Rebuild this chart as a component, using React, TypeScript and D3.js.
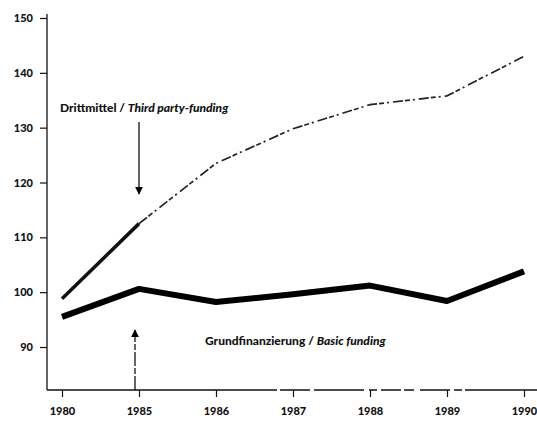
import { useEffect, useRef } from "react";
import * as d3 from "d3";

const years = ["1980", "1985", "1986", "1987", "1988", "1989", "1990"];
const drittmittel = [98.8, 112.5, 123.5, 129.8, 134.2, 135.8, 143];
const grundfinanzierung = [95.5, 100.6, 98.2, 99.6, 101.2, 98.4, 103.8];
const yTicks = [90, 100, 110, 120, 130, 140, 150];

const labelDritt = "Drittmittel / ";
const labelDrittEn = "Third party-funding";
const labelGrund = "Grundfinanzierung / ";
const labelGrundEn = "Basic funding";

export default function App() {
    const ref = useRef<SVGSVGElement>(null);

    useEffect(() => {
        const width = 537;
        const height = 423;
        const axisY = 390;
        const axisX = 47;

        const svg = d3.select(ref.current)
            .attr("width", width)
            .attr("height", height);

        svg.selectAll("*").remove();

        const font = "Lato, 'DejaVu Sans', sans-serif";

        // Scales
        const x = d3.scalePoint<string>()
            .domain(years)
            .range([62, 524]);

        const y = d3.scaleLinear()
            .domain([90, 150])
            .range([347, 18]);

        // Y axis
        const yAxis = svg.append("g")
            .attr("transform", `translate(${axisX},0)`)
            .call(d3.axisLeft(y).tickValues(yTicks).tickSize(7).tickPadding(7).tickFormat(d3.format("d")));
        yAxis.select(".domain").remove();
        yAxis.append("line")
            .attr("x1", 0).attr("x2", 0)
            .attr("y1", 14).attr("y2", axisY)
            .attr("stroke", "#111").attr("stroke-width", 1.3);
        yAxis.selectAll("text")
            .attr("font-family", font)
            .attr("font-weight", "900")
            .attr("font-size", 11)
            .attr("fill", "#111");
        yAxis.selectAll(".tick line").attr("stroke", "#111").attr("stroke-width", 1.2);

        // X axis
        const xAxis = svg.append("g")
            .attr("transform", `translate(0,${axisY})`)
            .call(d3.axisBottom(x).tickSize(7).tickPadding(10));
        xAxis.select(".domain").remove();
        xAxis.append("line")
            .attr("x1", axisX).attr("x2", width)
            .attr("y1", 0).attr("y2", 0)
            .attr("stroke", "#111").attr("stroke-width", 1.3)
            .attr("stroke-dasharray", "230 3 30 4 50 5 8 4 20 3 10 6 30 4 8 3");
        xAxis.selectAll("text")
            .attr("font-family", font)
            .attr("font-weight", "900")
            .attr("font-size", 11)
            .attr("fill", "#111");
        xAxis.selectAll(".tick line").attr("stroke", "#111").attr("stroke-width", 1.2);

        const line = d3.line<number>()
            .x((_, i) => x(years[i]) as number)
            .y(d => y(d));

        // Drittmittel: heavy first stretch, thin broken afterwards
        svg.append("path")
            .datum(drittmittel.slice(0, 2))
            .attr("fill", "none")
            .attr("stroke", "#111")
            .attr("stroke-width", 3.5)
            .attr("d", line);

        const lineRest = d3.line<number>()
            .x((_, i) => x(years[i + 1]) as number)
            .y(d => y(d));
        svg.append("path")
            .datum(drittmittel.slice(1))
            .attr("fill", "none")
            .attr("stroke", "#222")
            .attr("stroke-width", 1.7)
            .attr("stroke-dasharray", "10 2 5 3 2 4")
            .attr("d", lineRest);

        // Grundfinanzierung
        svg.append("path")
            .datum(grundfinanzierung)
            .attr("fill", "none")
            .attr("stroke", "#000")
            .attr("stroke-width", 6)
            .attr("stroke-linejoin", "round")
            .attr("d", line);

        // Arrow marker
        const defs = svg.append("defs");
        defs.append("marker")
            .attr("id", "arrowhead")
            .attr("viewBox", "0 0 10 10")
            .attr("refX", 9).attr("refY", 5)
            .attr("markerWidth", 7).attr("markerHeight", 6)
            .attr("markerUnits", "strokeWidth")
            .attr("orient", "auto")
            .append("path")
            .attr("d", "M0,0 L10,5 L0,10 Z")
            .attr("fill", "#000");

        const arrowX1 = (x("1985") as number);
        svg.append("line")
            .attr("x1", arrowX1).attr("x2", arrowX1)
            .attr("y1", 122).attr("y2", 194)
            .attr("stroke", "#111").attr("stroke-width", 1.3)
            .attr("marker-end", "url(#arrowhead)");

        svg.append("line")
            .attr("x1", arrowX1 - 4).attr("x2", arrowX1 - 4)
            .attr("y1", axisY).attr("y2", 330)
            .attr("stroke", "#111").attr("stroke-width", 1.3)
            .attr("stroke-dasharray", "14 2 6 2")
            .attr("marker-end", "url(#arrowhead)");

        // Labels
        const t1 = svg.append("text")
            .attr("x", 60).attr("y", 112)
            .attr("font-family", font)
            .attr("font-weight", "900")
            .attr("font-size", 12)
            .attr("fill", "#111");
        t1.append("tspan").text(labelDritt);
        t1.append("tspan").attr("font-style", "italic").text(labelDrittEn);

        const t2 = svg.append("text")
            .attr("x", 205).attr("y", 345)
            .attr("font-family", font)
            .attr("font-weight", "900")
            .attr("font-size", 12)
            .attr("fill", "#111");
        t2.append("tspan").text(labelGrund);
        t2.append("tspan").attr("font-style", "italic").text(labelGrundEn);
    }, []);

    return (
        <svg ref={ref} style={{ position: "absolute", left: 0, top: 0, background: "#fff" }}></svg>
    );
}
